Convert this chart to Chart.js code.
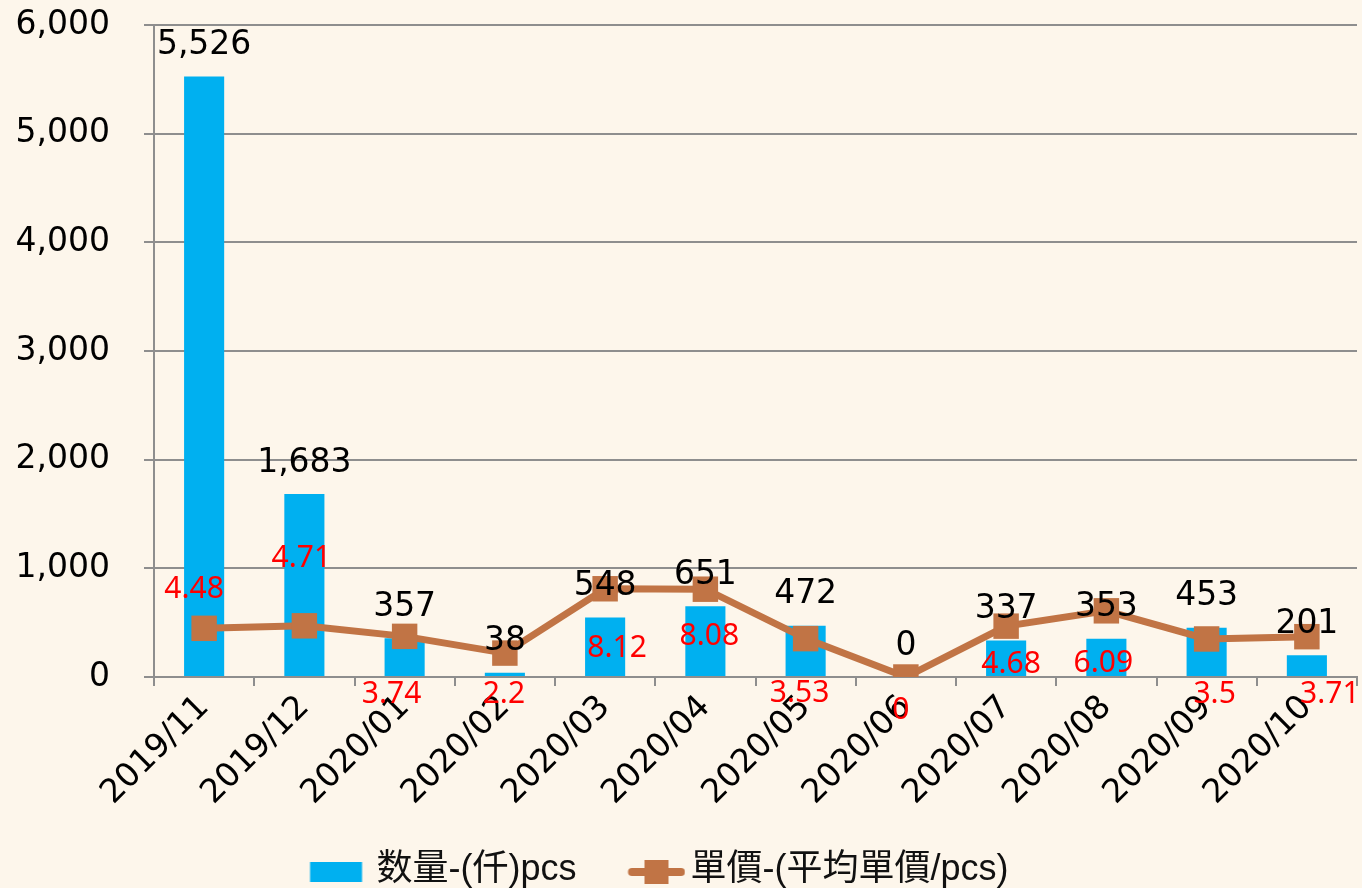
<!DOCTYPE html>
<html>
<head>
<meta charset="utf-8">
<title>数量 / 單價</title>
<script src="https://cdn.jsdelivr.net/npm/chart.js@4.4.1/dist/chart.umd.min.js"></script>
<style>
  html, body { margin: 0; padding: 0; background: #FDF6EB; }
  .wrap { position: relative; width: 1362px; height: 888px; }
</style>
</head>
<body>
<div class="wrap"><canvas id="chart"></canvas></div>
<script>
const months = ['2019/11', '2019/12', '2020/01', '2020/02', '2020/03', '2020/04',
                '2020/05', '2020/06', '2020/07', '2020/08', '2020/09', '2020/10'];
const qty = [5526, 1683, 357, 38, 548, 651, 472, 0, 337, 353, 453, 201];
const price = [4.48, 4.71, 3.74, 2.2, 8.12, 8.08, 3.53, 0, 4.68, 6.09, 3.5, 3.71];
const qtyName = '数量-(仟)pcs';
const priceName = '單價-(平均單價/pcs)';
const qtyMax = 6000, qtyStep = 1000;
const priceMax = 60;

// where each red price label sits relative to its marker (dx, dy)
const priceLabelShift = [[-10, -39], [-3, -67], [-13, 58], [-1, 41], [12, 60], [4, 47],
                         [-6, 55], [-5, 33], [5, 38], [-3, 53], [8, 55], [23, 58]];

const BLUE = '#00B0F0';
const BROWN = '#C17445';
const GRID = '#8E8E8E';
const BG = '#FDF6EB';

// legend icons as small canvases (chart.js draws them centred in the legend box)
function legendIcon(kind) {
  const c = document.createElement('canvas');
  c.width = 112; c.height = 36;
  const g = c.getContext('2d');
  if (kind === 'bar') {
    g.fillStyle = BLUE;
    g.fillRect(50.5, 10, 52, 20);
  } else {
    g.strokeStyle = BROWN; g.lineWidth = 8; g.lineCap = 'round';
    g.beginPath(); g.moveTo(58.5, 20); g.lineTo(107.5, 20); g.stroke();
    g.fillStyle = BROWN;
    g.fillRect(71, 8, 24, 24);
  }
  return c;
}

const paintBg = {
  id: 'paintBg',
  beforeDraw(chart) {
    const { ctx, width, height } = chart;
    ctx.save();
    ctx.fillStyle = BG;
    ctx.fillRect(0, 0, width, height);
    ctx.restore();
  }
};

const valueLabels = {
  id: 'valueLabels',
  afterDraw(chart) {
    const ctx = chart.ctx;
    ctx.save();
    ctx.textAlign = 'center';
    ctx.textBaseline = 'middle';
    ctx.font = '33px "DejaVu Sans"';
    ctx.fillStyle = '#000';
    chart.getDatasetMeta(0).data.forEach((bar, i) => {
      ctx.fillText(qty[i].toLocaleString('en-US'), bar.x, bar.y - 31);
    });
    ctx.font = '30px "Noto Sans"';
    ctx.fillStyle = '#FF0000';
    chart.getDatasetMeta(1).data.forEach((pt, i) => {
      const [dx, dy] = priceLabelShift[i];
      ctx.fillText(String(price[i]), pt.x + dx, pt.y + dy);
    });
    ctx.restore();
  }
};

// nudge the legend a bit left and down, like the original
const moveLegend = {
  id: 'moveLegend',
  afterLayout(chart) {
    const l = chart.legend;
    l.left -= 38; l.right -= 38;
    l.top += 10; l.bottom += 10;
  }
};

const tickFont = { family: 'DejaVu Sans', size: 33 };

new Chart(document.getElementById('chart'), {
  type: 'bar',
  data: {
    labels: months,
    datasets: [
      {
        type: 'bar',
        label: qtyName,
        data: qty,
        backgroundColor: BLUE,
        borderWidth: 0,
        barPercentage: 0.4,
        categoryPercentage: 1.0,
        yAxisID: 'y',
        order: 1
      },
      {
        type: 'line',
        label: priceName,
        data: price,
        borderColor: BROWN,
        backgroundColor: BROWN,
        borderWidth: 7,
        pointStyle: 'rect',
        pointRadius: 18,
        pointBackgroundColor: BROWN,
        pointBorderWidth: 0,
        tension: 0,
        yAxisID: 'y1',
        order: 0
      }
    ]
  },
  options: {
    responsive: true,
    maintainAspectRatio: false,
    animation: false,
    layout: { autoPadding: false, padding: { left: 0, right: 5, top: 0, bottom: 0 } },
    plugins: {
      tooltip: { enabled: false },
      legend: {
        position: 'bottom',
        labels: {
          usePointStyle: true,
          pointStyleWidth: 86,
          padding: 10,
          color: '#111',
          font: { family: '"Liberation Sans", "Noto Sans CJK TC"', size: 36 },
          generateLabels() {
            return [
              { text: qtyName, pointStyle: legendIcon('bar'), datasetIndex: 0, hidden: false, fontColor: '#111', lineWidth: 0 },
              { text: priceName, pointStyle: legendIcon('line'), datasetIndex: 1, hidden: false, fontColor: '#111', lineWidth: 0 }
            ];
          }
        }
      }
    },
    scales: {
      x: {
        grid: { display: true, drawOnChartArea: false, drawTicks: true, tickLength: 9, color: GRID, lineWidth: 2, offset: true },
        border: { display: true, color: GRID, width: 2 },
        ticks: { autoSkip: false, minRotation: 45, maxRotation: 45, color: '#000', font: tickFont, padding: 2 },
        afterFit(scale) { scale.height = 155; scale.paddingRight = 0; }
      },
      y: {
        min: 0,
        max: qtyMax,
        ticks: { stepSize: qtyStep, color: '#000', font: tickFont, padding: 34 },
        grid: { color: GRID, lineWidth: 2, tickLength: 10 },
        border: { color: GRID, width: 2 },
        afterFit(scale) { scale.width = 154; scale.paddingTop = 25; }
      },
      y1: { display: false, min: 0, max: priceMax }
    }
  },
  plugins: [paintBg, valueLabels, moveLegend]
});
</script>
</body>
</html>
